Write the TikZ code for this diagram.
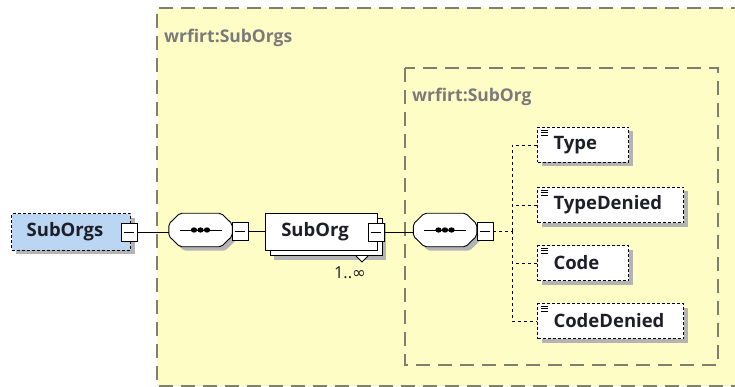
\documentclass[tikz,border=0pt]{standalone}
\usepackage{fontspec}
\setmainfont{Open Sans}
\newfontfamily\symfont{DejaVu Sans}
\usetikzlibrary{shadows,calc}
\definecolor{ybg}{HTML}{FFFDC6}
\definecolor{framegray}{HTML}{7F7F70}
\definecolor{labgray}{HTML}{7A7A7A}
\definecolor{blfill}{HTML}{BBD6F3}
\definecolor{shad}{HTML}{B4B4B4}
\definecolor{txt}{HTML}{1E1E28}
\tikzset{
  frame/.style={draw=framegray, line width=1.1pt, dash pattern=on 14pt off 8pt},
  grouplabel/.style={anchor=west, text=labgray, font=\bfseries\fontsize{17.5}{17.5}\selectfont, inner sep=0pt},
  shadowed/.style={drop shadow={shadow xshift=4pt, shadow yshift=-4pt, fill=shad, opacity=1}},
  elem/.style={shadowed, draw=black, fill=white, line width=1pt, dash pattern=on 3pt off 2pt,
     rectangle, minimum height=35pt, inner sep=0pt, anchor=north west, align=left,
     text=txt, font=\bfseries\fontsize{18.5}{18.5}\selectfont},
  minusbox/.style={draw=black, fill=white, line width=0.9pt, minimum width=16pt, minimum height=18pt, inner sep=0pt, rectangle},
  seqnode/.style={minimum width=63pt, minimum height=33pt, inner sep=0pt},
  conn/.style={draw=black, line width=0.9pt},
  dconn/.style={draw=black, line width=0.9pt, dash pattern=on 3pt off 3pt},
}
\newcommand{\minussign}[1]{\draw[line width=0.9pt] ($(#1.west)+(3pt,0)$) -- ($(#1.east)+(-3pt,0)$);}
\newcommand{\octpath}[2]{%
  ($(#1.west)+(#2,-6+#2)$) -- ($(#1.north west)+(11+#2,#2)$) -- ($(#1.north east)+(-11+#2,#2)$) -- ($(#1.east)+(#2,-6+#2)$)
  -- ($(#1.east)+(#2,6+#2)$) -- ($(#1.south east)+(-11+#2,#2)$) -- ($(#1.south west)+(11+#2,#2)$) -- ($(#1.west)+(#2,6+#2)$) -- cycle}
\newcommand{\seqshape}[1]{%
  \fill[shad, rounded corners=2pt] \octpath{#1}{4};
  \draw[line width=0.9pt, fill=white, rounded corners=2pt] \octpath{#1}{0};
  \draw[line width=0.9pt] ($(#1.center)+(-21,0)$) -- ($(#1.center)+(21,0)$);
  \foreach \dx in {-6.5,0,6.5} \fill ($(#1.center)+(\dx,0)$) ellipse (3.2pt and 2.6pt);
}
\newcommand{\elemicon}[1]{%
  \foreach \dy in {3,5.5,8} \draw[line width=0.6pt] ($(#1.north west)+(4,\dy)$) -- ++(7,0);
}
\begin{document}
\begin{tikzpicture}[x=1pt,y=-1pt]
\useasboundingbox (0,0) rectangle (735,387);
\fill[white] (0,0) rectangle (735,387);
% outer group
\fill[ybg] (157,8) rectangle (745,386);
\draw[frame] (745,8) -- (157,8) -- (157,386) -- (745,386);
\node[grouplabel] (lblouter) at (164,38) {wrfirt:SubOrgs};
% inner group
\draw[frame] (405,68) rectangle (718,365);
\node[grouplabel] (lblinner) at (412,97) {wrfirt:SubOrg};

% root element
\node[shadowed, draw=black, fill=blfill, line width=1pt, dash pattern=on 3pt off 2pt,
      minimum width=119pt, minimum height=36pt, inner sep=0pt, text=txt,
      font=\bfseries\fontsize{18.5}{18.5}\selectfont] (root) at (71,232) {\hspace*{-12pt}SubOrgs};
\node[minusbox] (rootm) at (129,232) {};
\minussign{rootm}

% sequence 1
\node[seqnode] (seqa) at (200.5,230) {};
\seqshape{seqa}
\node[minusbox] (seqam) at (240,231) {};
\minussign{seqam}

% SubOrg (repeated)
\node[draw=black, fill=white, line width=1pt, minimum width=112pt, minimum height=37pt, inner sep=0pt,
      shadowed] (suborgback) at (326,237) {};
\node[draw=black, fill=white, line width=1pt, minimum width=112pt, minimum height=37pt, inner sep=0pt,
      text=txt, font=\bfseries\fontsize{18.5}{18.5}\selectfont] (suborg) at (321,232) {\hspace*{-12pt}SubOrg};
\node[minusbox] (suborgm) at (376,232) {};
\minussign{suborgm}
\draw[line width=0.9pt, fill=white] ($(suborgback.south)+(30,0)$) -- ++(6,6) -- ++(6,-6);
\node[font=\fontsize{16.5}{16.5}\selectfont, text=txt, inner sep=0pt] (card) at (350,273) {1..{\symfont ∞}};

% sequence 2
\node[seqnode] (seqb) at (445,230) {};
\seqshape{seqb}
\node[minusbox] (seqbm) at (485,231) {};
\minussign{seqbm}

% child elements
\node[elem, minimum width=91pt, text width=91pt] (type) at (537,127) {\hspace*{16pt}Type};
\node[elem, minimum width=146pt, text width=146pt] (typed) at (537,187) {\hspace*{16pt}TypeDenied};
\node[elem, minimum width=91pt, text width=91pt] (code) at (537,245) {\hspace*{16pt}Code};
\node[elem, minimum width=146pt, text width=146pt] (coded) at (537,303) {\hspace*{16pt}CodeDenied};
\elemicon{type}\elemicon{typed}\elemicon{code}\elemicon{coded}

% connectors
\draw[conn] (rootm.east) -- (seqa.west |- rootm.east);
\draw[conn] (seqam.east) -- (suborg.west |- seqam.east);
\draw[conn] (suborgm.east) -- (seqb.west |- suborgm.east);
\coordinate (branch) at (512,231);
\draw[dconn] (seqbm.east) -- (branch);
\foreach \e in {type,typed,code,coded} \draw[dconn] (branch) |- (\e.west);
\end{tikzpicture}
\end{document}
